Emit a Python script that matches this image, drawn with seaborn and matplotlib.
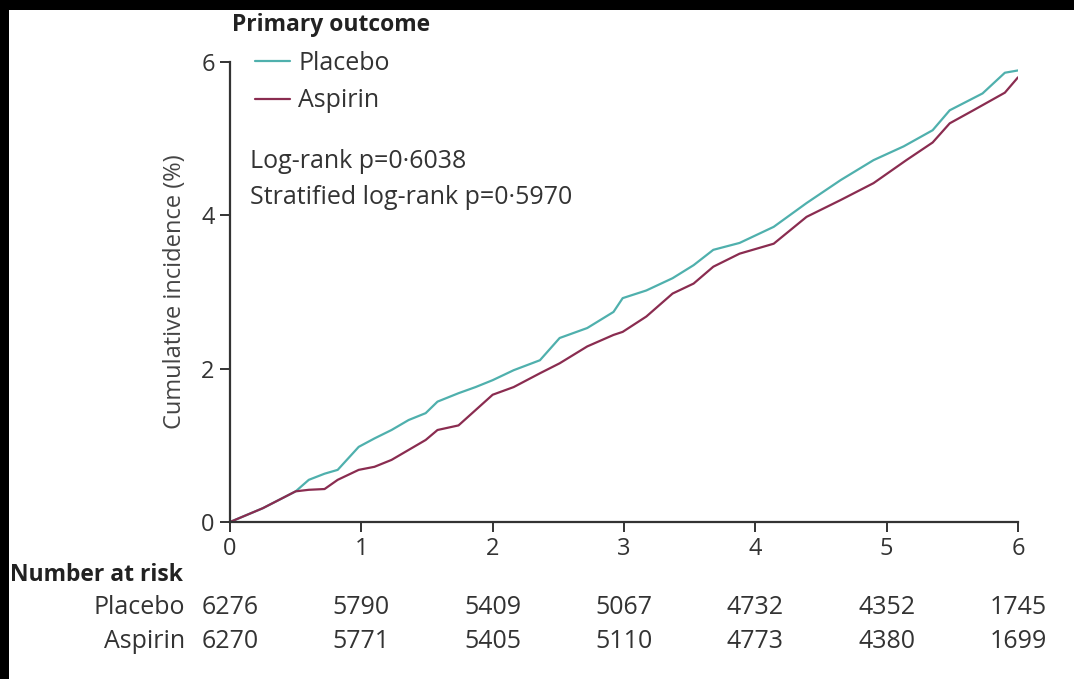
import pandas as pd
import matplotlib
matplotlib.use('Agg')
import matplotlib.pyplot as plt
from matplotlib.patches import Rectangle
from matplotlib.lines import Line2D
import seaborn as sns

# values
placebo_years = [0, 0.25, 0.5, 0.6, 0.72, 0.82, 0.98, 1.1, 1.23, 1.36, 1.49, 1.58, 1.74, 1.87, 2.0,
                 2.16, 2.36, 2.51, 2.72, 2.92, 2.99, 3.17, 3.37, 3.53, 3.68, 3.88, 4.14, 4.39, 4.65,
                 4.9, 5.13, 5.35, 5.48, 5.73, 5.9, 6.0]
placebo_pct = [0, 0.18, 0.40, 0.55, 0.63, 0.68, 0.98, 1.09, 1.2, 1.33, 1.42, 1.57, 1.68, 1.76, 1.85,
               1.98, 2.11, 2.4, 2.53, 2.74, 2.92, 3.02, 3.18, 3.35, 3.55, 3.64, 3.85, 4.16, 4.46,
               4.72, 4.9, 5.11, 5.37, 5.59, 5.86, 5.89]
aspirin_years = [0, 0.25, 0.5, 0.6, 0.72, 0.82, 0.98, 1.1, 1.23, 1.36, 1.49, 1.58, 1.74, 1.87, 2.0,
                 2.16, 2.36, 2.51, 2.72, 2.92, 2.99, 3.17, 3.37, 3.53, 3.68, 3.88, 4.14, 4.39, 4.65,
                 4.9, 5.15, 5.35, 5.48, 5.66, 5.9, 6.0]
aspirin_pct = [0, 0.18, 0.40, 0.42, 0.43, 0.55, 0.68, 0.72, 0.81, 0.94, 1.07, 1.2, 1.26, 1.46, 1.66,
               1.76, 1.94, 2.07, 2.29, 2.44, 2.48, 2.68, 2.98, 3.11, 3.33, 3.5, 3.63, 3.98, 4.2,
               4.42, 4.72, 4.95, 5.2, 5.37, 5.6, 5.8]

risk_years = [0, 1, 2, 3, 4, 5, 6]
placebo_risk = [6276, 5790, 5409, 5067, 4732, 4352, 1745]
aspirin_risk = [6270, 5771, 5405, 5110, 4773, 4380, 1699]

groups = ['Placebo', 'Aspirin']
colors = {'Placebo': '#4fb0ad', 'Aspirin': '#8a2c50'}

df = pd.concat([
    pd.DataFrame({'year': placebo_years, 'pct': placebo_pct, 'group': 'Placebo'}),
    pd.DataFrame({'year': aspirin_years, 'pct': aspirin_pct, 'group': 'Aspirin'}),
])

sns.set_style('ticks')
plt.rcParams['font.family'] = ['Open Sans', 'DejaVu Sans']
text_col = '#333333'
fs = 18        # regular text
fs_bold = 16.5

fig = plt.figure(figsize=(10.74, 6.79), dpi=100)
fig.patch.set_facecolor('black')
fig.patches.append(Rectangle((9 / 1074, 0), 1, 1 - 10 / 679, transform=fig.transFigure,
                             facecolor='white', edgecolor='none', zorder=-10))

ax = fig.add_axes([230 / 1074, 1 - 522 / 679, 788 / 1074, 460 / 679])
ax.set_facecolor('none')

sns.lineplot(data=df, x='year', y='pct', hue='group', palette=colors, estimator=None,
             sort=False, linewidth=1.6, legend=False, ax=ax)

ax.set_xlim(0, 6)
ax.set_ylim(0, 6)
ax.set_xticks(risk_years)
ax.set_yticks([0, 2, 4, 6])
ax.set_xlabel('')
ax.set_ylabel('Cumulative incidence (%)', fontsize=17, color='#444444', labelpad=10)
ax.tick_params(axis='both', length=7, width=1.4, labelsize=17, colors='#333333',
               labelcolor=text_col, pad=4)
for side in ['top', 'right']:
    ax.spines[side].set_visible(False)
for side in ['left', 'bottom']:
    ax.spines[side].set_linewidth(1.6)
    ax.spines[side].set_color('#333333')
ax.spines['left'].set_zorder(5)

handles = [Line2D([], [], color=colors[g], linewidth=1.6) for g in groups]
ax.legend(handles, groups, loc='upper left', bbox_to_anchor=(0.032, 1.024), frameon=False,
          fontsize=fs, handlelength=1.4, handletextpad=0.32, labelspacing=0.5,
          borderpad=0, borderaxespad=0, labelcolor=text_col)

fig.text(232 / 1074, 1 - 25 / 679, 'Primary outcome', fontsize=fs_bold, fontweight='bold',
         color='#222222', ha='left', va='center')
ax.text(0.025, (522 - 162) / 460, 'Log-rank p=0\u00b76038', transform=ax.transAxes,
        fontsize=fs, color=text_col, ha='left', va='center')
ax.text(0.025, (522 - 198) / 460, 'Stratified log-rank p=0\u00b75970', transform=ax.transAxes,
        fontsize=fs, color=text_col, ha='left', va='center')

# number at risk table
fig.text(10 / 1074, 1 - 575 / 679, 'Number at risk', fontsize=fs_bold, fontweight='bold',
         color='#222222', ha='left', va='center')
rows = [('Placebo', placebo_risk, 608), ('Aspirin', aspirin_risk, 641)]
for name, counts, ypx in rows:
    fig.text(185 / 1074, 1 - ypx / 679, name, fontsize=fs, color=text_col,
             ha='right', va='center')
    for yr, n in zip(risk_years, counts):
        ax.annotate(str(n), xy=(yr, 0), xycoords=('data', 'axes fraction'),
                    xytext=(0, -(ypx - 522)), textcoords='offset pixels',
                    fontsize=fs, color=text_col, ha='center', va='center')

fig.savefig('out.png', dpi=100)
